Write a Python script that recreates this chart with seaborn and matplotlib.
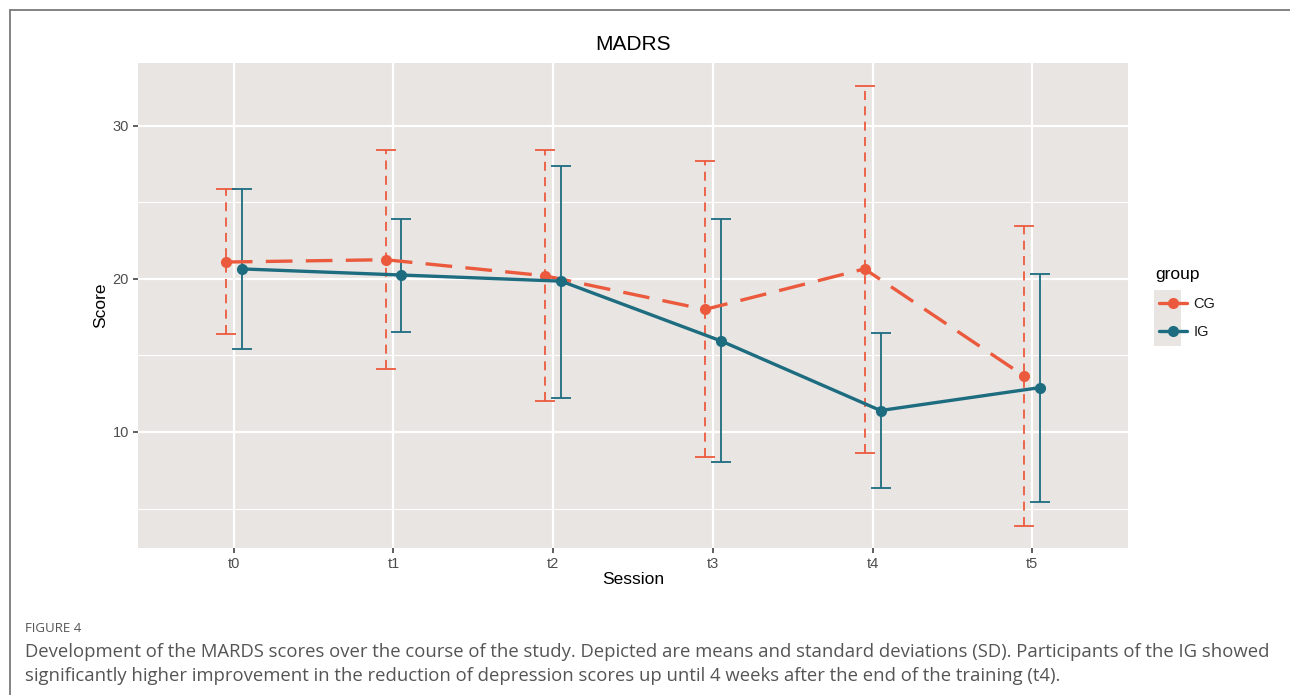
import numpy as np
import pandas as pd
import matplotlib
matplotlib.use("Agg")
import matplotlib.pyplot as plt
from matplotlib.lines import Line2D
from matplotlib.patches import Rectangle
import seaborn as sns

# ---- data ----
sessions = ["t0", "t1", "t2", "t3", "t4", "t5"]
cg_mean = [21.1, 21.25, 20.2, 18.0, 20.65, 13.65]
cg_upper = [25.9, 28.4, 28.4, 27.7, 32.6, 23.45]
cg_lower = [16.4, 14.1, 12.0, 8.35, 8.65, 3.85]
ig_mean = [20.65, 20.25, 19.85, 15.95, 11.4, 12.9]
ig_upper = [25.85, 23.9, 27.4, 23.9, 16.45, 20.3]
ig_lower = [15.4, 16.5, 12.25, 8.05, 6.35, 5.45]
groups = ["CG", "IG"]

CG_COL = "#EC5A3E"
IG_COL = "#1D6C80"
PANEL = "#E8E5E2"

sns.set_theme(style="white")
plt.rcParams["font.family"] = ["Liberation Sans", "DejaVu Sans"]

fig = plt.figure(figsize=(12.9, 6.95), dpi=100)
ax = fig.add_axes([138/1290, 1-548/695, (1128-138)/1290, (548-63)/695])
ax.set_facecolor(PANEL)
for s in ax.spines.values():
    s.set_visible(False)

dodge = 0.05
idx = np.arange(len(sessions))
rows = []
for g, m, lo, hi, off in [("CG", cg_mean, cg_lower, cg_upper, -dodge),
                          ("IG", ig_mean, ig_lower, ig_upper, dodge)]:
    for i, s in enumerate(sessions):
        rows.append(dict(group=g, session=s, x=i + off, score=m[i], lo=lo[i], hi=hi[i]))
df = pd.DataFrame(rows)

palette = {"CG": CG_COL, "IG": IG_COL}

# error bars
for g, ls in [("CG", (0, (5, 3.5))), ("IG", "-")]:
    d = df[df.group == g]
    eb = ax.errorbar(d.x, d.score, yerr=[d.score - d.lo, d.hi - d.score], fmt="none",
                     ecolor=palette[g], elinewidth=1.3, capsize=7.5, capthick=1.3, zorder=3)
    eb[2][0].set_linestyle(ls)

sns.lineplot(data=df[df.group == "CG"], x="x", y="score", color=CG_COL, ax=ax,
             linewidth=2.4, marker="o", markersize=8, markeredgewidth=0,
             dashes=False, legend=False, zorder=4, linestyle=(0, (8, 4)))
sns.lineplot(data=df[df.group == "IG"], x="x", y="score", color=IG_COL, ax=ax,
             linewidth=2.4, marker="o", markersize=8, markeredgewidth=0,
             legend=False, zorder=4)

ax.set_xlim(-0.6, len(sessions) - 1 + 0.6)
ax.set_ylim(2.42, 34.1)
ax.set_xticks(idx)
ax.set_xticklabels(sessions)
ax.set_yticks([10, 20, 30])
ax.set_yticks([5, 15, 25], minor=True)
ax.grid(True, which="major", color="white", linewidth=1.6, zorder=0)
ax.grid(True, which="minor", axis="y", color="white", linewidth=0.8, zorder=0)
ax.set_axisbelow(True)
ax.tick_params(axis="both", which="major", length=3.5, width=1.1, color="#333333",
               labelsize=10.5, labelcolor="#4D4D4D", pad=3, bottom=True, left=True)
ax.tick_params(axis="both", which="minor", length=0)
ax.set_xlabel("")
ax.set_ylabel("")

fig.text(633/1290, 1-44/695, "MADRS", ha="center", va="center", fontsize=15, color="black")
fig.text(633/1290, 1-580/695, "Session", ha="center", va="center", fontsize=12.5, color="black")
fig.text(101/1290, 1-305/695, "Score", ha="center", va="center", rotation=90, fontsize=12.5, color="black")

# legend
fig.text(1155/1290, 1-275/695, "group", ha="left", va="center", fontsize=12.5, color="black")
fig.patches.append(Rectangle((1154/1290, 1-346/695), 27/1290, 56/695,
                             transform=fig.transFigure, facecolor=PANEL, edgecolor="none"))
handles = [Line2D([0], [0], color=CG_COL, lw=2.4, marker="o", markersize=8, markeredgewidth=0),
           Line2D([0], [0], color=IG_COL, lw=2.4, marker="o", markersize=8, markeredgewidth=0)]
leg = fig.legend(handles, groups, loc="center left", bbox_to_anchor=(1152/1290, 1-318/695),
                 frameon=False, fontsize=10.5, handlelength=1.9, handletextpad=0.45,
                 labelspacing=0.95, borderpad=0)
for t in leg.get_texts():
    t.set_color("#1A1A1A")

# frame
fig.add_artist(Line2D([10/1290, 1], [1-10/695, 1-10/695], transform=fig.transFigure,
                      color="#7A7A7A", lw=1.3))
fig.add_artist(Line2D([10/1290, 10/1290], [0, 1-10/695], transform=fig.transFigure,
                      color="#7A7A7A", lw=1.3))

# caption
cap_font = ["Open Sans", "DejaVu Sans"]
fig.text(25/1290, 1-629/695, "FIGURE 4", ha="left", va="center", fontsize=9.5,
         color="#555555", family=cap_font)
fig.text(25/1290, 1-652/695,
         "Development of the MARDS scores over the course of the study. Depicted are means and standard deviations (SD). Participants of the IG showed",
         ha="left", va="center", fontsize=13.3, color="#555555", family=cap_font)
fig.text(25/1290, 1-676/695,
         "significantly higher improvement in the reduction of depression scores up until 4 weeks after the end of the training (t4).",
         ha="left", va="center", fontsize=13.3, color="#555555", family=cap_font)

fig.savefig("out.png", dpi=100)
